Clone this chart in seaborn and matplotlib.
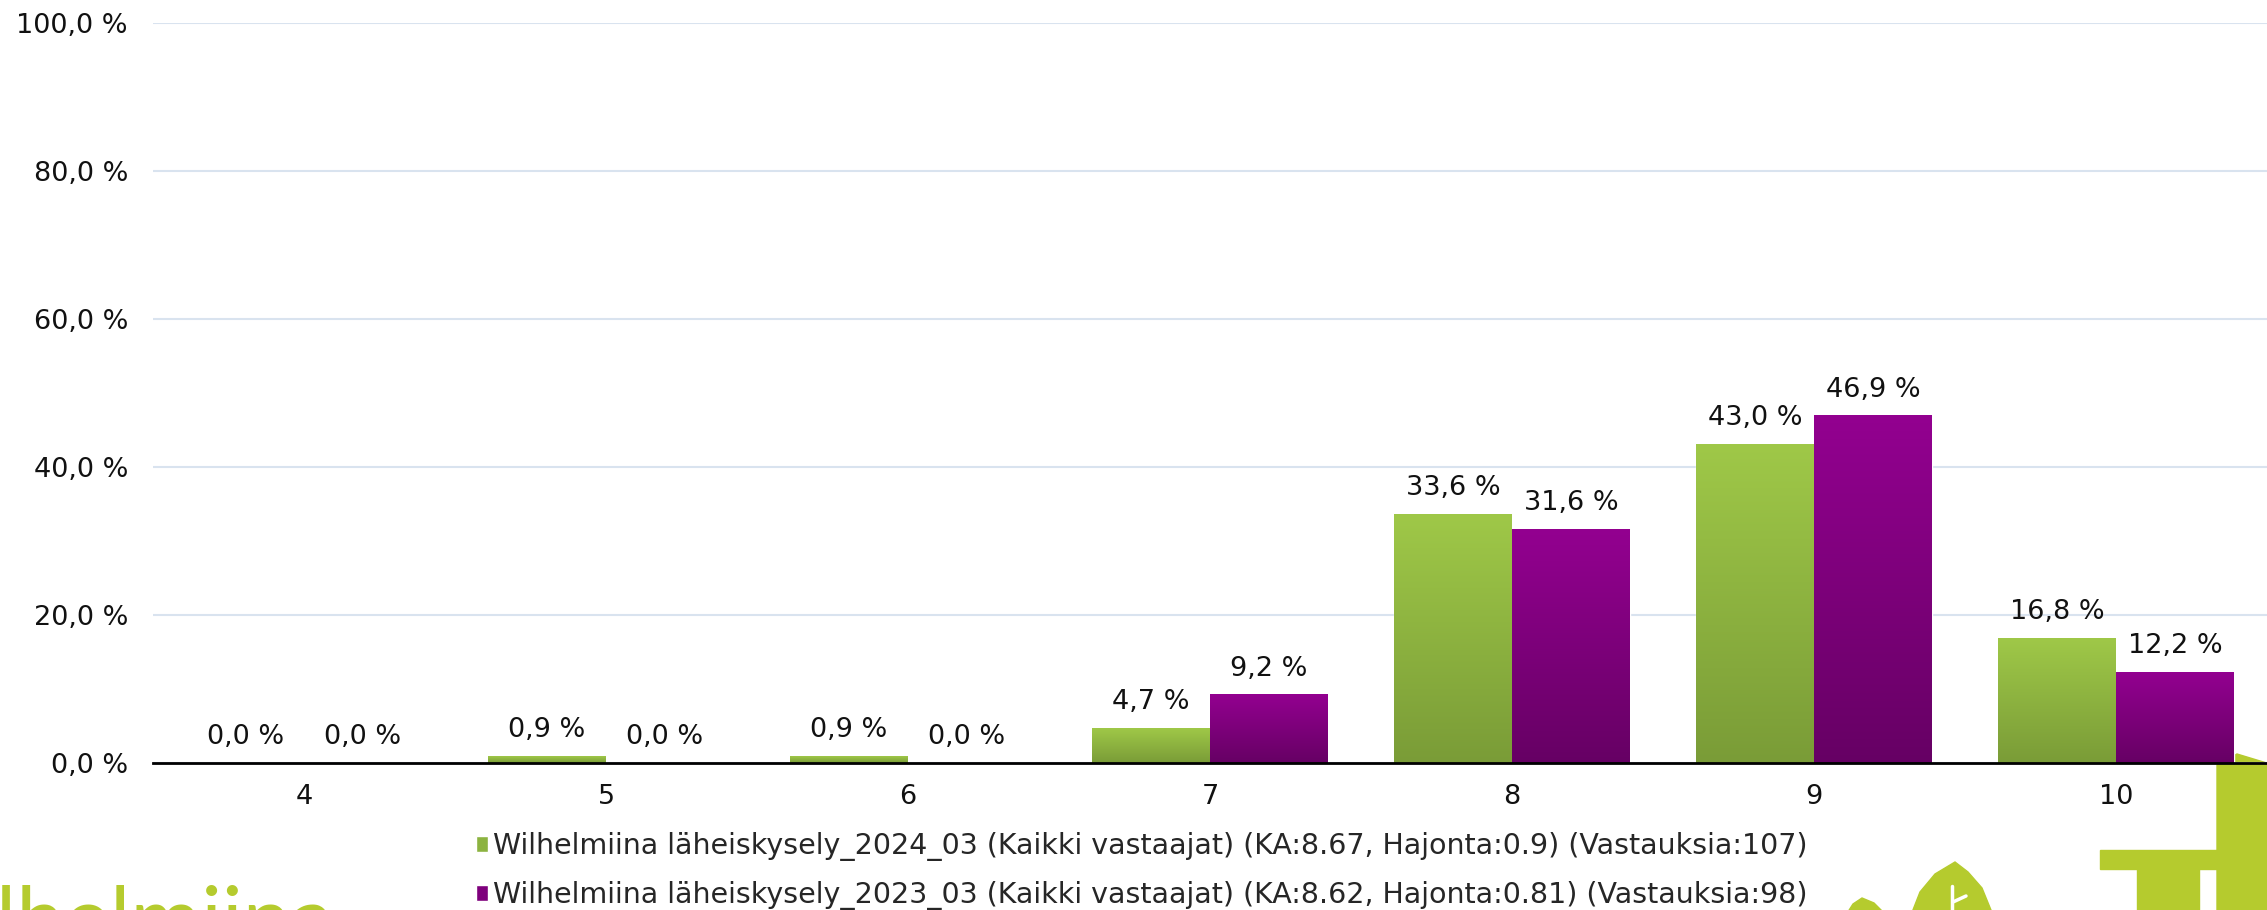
import numpy as np
import pandas as pd
import matplotlib
matplotlib.use("Agg")
import matplotlib.pyplot as plt
import seaborn as sns
from matplotlib.patches import Polygon, Rectangle
from matplotlib.lines import Line2D
from matplotlib.ticker import FuncFormatter, MultipleLocator

# values (percent)
scores = ["4", "5", "6", "7", "8", "9", "10"]
vals_2024 = [0.0, 0.9, 0.9, 4.7, 33.6, 43.0, 16.8]
vals_2023 = [0.0, 0.0, 0.0, 9.2, 31.6, 46.9, 12.2]
series_names = [
    "Wilhelmiina läheiskysely_2024_03 (Kaikki vastaajat) (KA:8.67, Hajonta:0.9) (Vastauksia:107)",
    "Wilhelmiina läheiskysely_2023_03 (Kaikki vastaajat) (KA:8.62, Hajonta:0.81) (Vastauksia:98)",
]

df = pd.DataFrame({
    "score": scores * 2,
    "value": vals_2024 + vals_2023,
    "survey": [series_names[0]] * len(scores) + [series_names[1]] * len(scores),
})

# bottom / top colours of the gradients
grad = [("#7a9c37", "#9fc848"), ("#660064", "#930090")]
mid = ["#8cb340", "#7e007c"]
lime = "#b5cb2e"

sns.set_style("white")
plt.rcParams["font.family"] = ["DejaVu Sans"]
fs = 19.5

fig = plt.figure(figsize=(22.67, 9.10), dpi=100)
ax = fig.add_axes([153 / 2267, 1 - 763 / 910, 1 - 153 / 2267, (763 - 23) / 910])

ax = sns.barplot(data=df, x="score", y="value", hue="survey", order=scores,
                 hue_order=series_names, palette=mid, saturation=1,
                 width=0.78, ax=ax, zorder=3)

# gradient fill on each bar + value labels
g = np.linspace(0, 1, 256).reshape(-1, 1)
for cont, (c0, c1) in zip(ax.containers, grad):
    cmap = matplotlib.colors.LinearSegmentedColormap.from_list("g", [c0, c1])
    for p in cont:
        x0, w, h = p.get_x(), p.get_width(), p.get_height()
        if h > 0:
            ax.imshow(g, extent=[x0, x0 + w, 0, h], origin="lower", cmap=cmap,
                      aspect="auto", zorder=3.5)
        ax.annotate(f"{h:.1f}".replace(".", ",") + " %", (x0 + w / 2, h),
                    xytext=(0, 19), textcoords="offset points",
                    ha="center", va="center", fontsize=fs, color="#111111")

ax.set_xlim(-0.5, 6.5)
ax.set_ylim(0, 100)
ax.yaxis.set_major_locator(MultipleLocator(20))
ax.yaxis.set_major_formatter(FuncFormatter(lambda v, _: f"{v:.1f}".replace(".", ",") + " %"))
ax.grid(axis="y", color="#d9e3ef", linewidth=1.5, zorder=0)
ax.set_axisbelow(True)
for s in ["top", "right", "left"]:
    ax.spines[s].set_visible(False)
ax.spines["bottom"].set_color("black")
ax.spines["bottom"].set_linewidth(2)
ax.spines["bottom"].set_zorder(5)
ax.tick_params(axis="both", length=0, labelsize=fs, colors="#111111")
ax.tick_params(axis="x", pad=15)
ax.tick_params(axis="y", pad=18)
ax.set_xlabel("")
ax.set_ylabel("")
ax.patch.set_alpha(0)

handles, labels = ax.get_legend_handles_labels()
ax.legend_.remove()
fig.legend(handles, labels, loc="upper left", bbox_to_anchor=(476 / 2267, 1 - 832 / 910),
           frameon=False, fontsize=20.5, handlelength=0.43, handleheight=0.52,
           handletextpad=0.15, labelspacing=0.7, borderpad=0, borderaxespad=0)

# logo pieces at the bottom edge (coordinates in inches, 100 px per inch)
tr = fig.dpi_scale_trans
fig.text(-1.13, (910 - 947) / 100, "Wilhelmiina", transform=tr, fontsize=62,
         color=lime, va="baseline", ha="left", family=["Lato", "DejaVu Sans"],
         zorder=0)

def px(pts):
    return [(x / 100, (910 - y) / 100) for x, y in pts]

fig.add_artist(Polygon(px([(2217, 915), (2217, 765), (2237, 754), (2270, 764), (2270, 915)]),
                       closed=True, color=lime, transform=tr, zorder=0))
fig.add_artist(Rectangle((21.00, (910 - 869) / 100), 1.17, 0.19, color=lime, transform=tr, zorder=0))
fig.add_artist(Rectangle((21.37, -0.05), 0.62, (910 - 869) / 100 + 0.05, color=lime,
                         transform=tr, zorder=0))
fig.add_artist(Polygon(px([(1955, 862), (1968, 872), (1982, 888), (1993, 915), (1911, 915),
                           (1920, 892), (1935, 874)]),
                       closed=True, color=lime, transform=tr, zorder=0))
fig.add_artist(Line2D([19.52, 19.52], [0.0, 0.24], color="white", lw=2.5, transform=tr, zorder=0.5))
fig.add_artist(Line2D([19.53, 19.66], [0.08, 0.14], color="white", lw=2.5, transform=tr, zorder=0.5))
fig.add_artist(Polygon(px([(1862, 898), (1874, 903), (1886, 915), (1846, 915), (1853, 904)]),
                       closed=True, color=lime, transform=tr, zorder=0))

fig.savefig("out.png", dpi=100)
